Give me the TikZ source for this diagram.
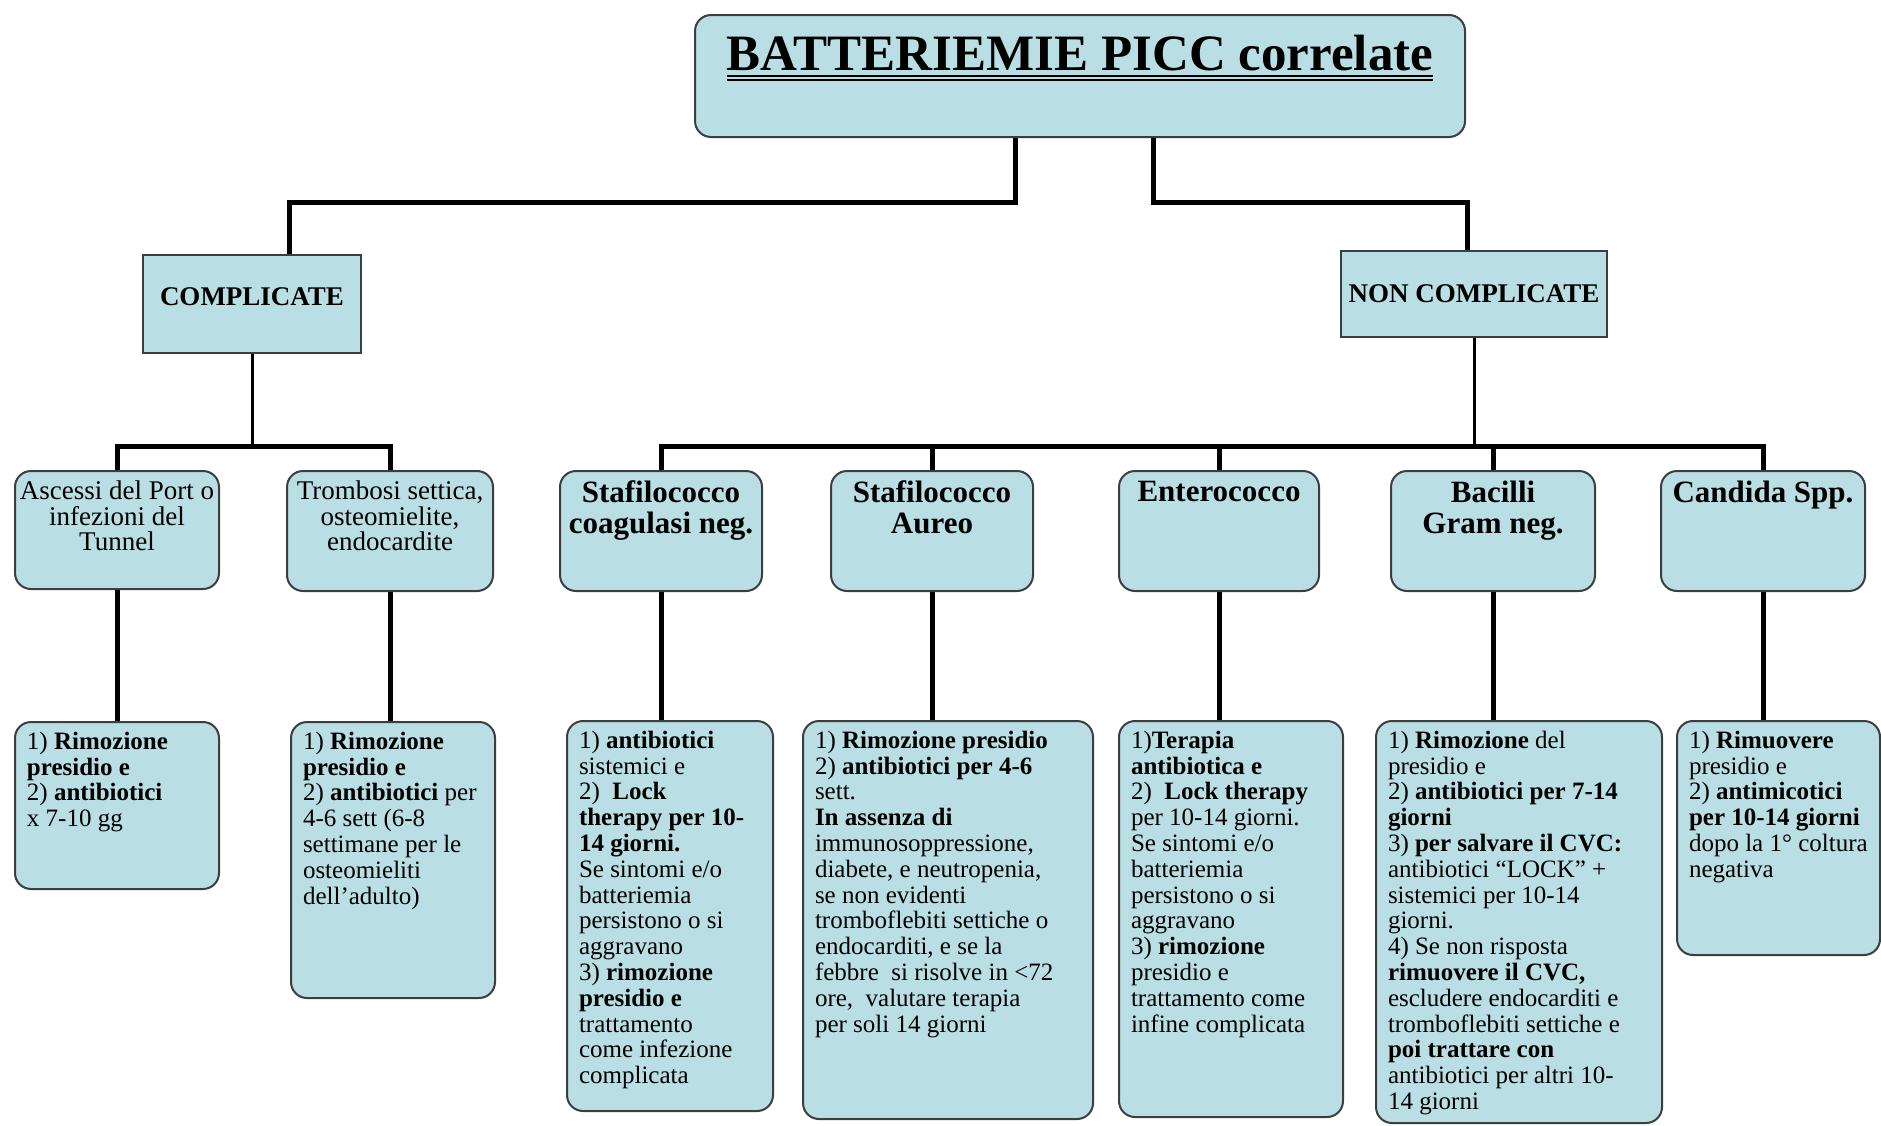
\documentclass[tikz,border=0pt]{standalone}
\usepackage{fontspec}
\setmainfont{Liberation Serif}
\usepackage{tikz}
\usetikzlibrary{calc}

\definecolor{boxfill}{RGB}{185,222,228}
\definecolor{boxline}{RGB}{58,62,64}
\tikzset{
  flatbox/.style={draw=boxline, fill=boxfill, line width=2pt, inner sep=0pt},
  roundbox/.style={flatbox, rounded corners=16pt},
  link/.style={line width=5pt, black},
  thinlink/.style={line width=3pt, black}
}
\newcommand{\fnttitle}{\fontsize{51}{53}\selectfont\bfseries\centering}
\newcommand{\fnthead}{\fontsize{27}{28}\selectfont\bfseries\centering}
\newcommand{\fntgerm}{\fontsize{31}{31}\selectfont\bfseries\centering}
\newcommand{\fntsite}{\fontsize{27}{25.5}\selectfont\centering}
\newcommand{\fntleaf}{\fontsize{25}{25.8}\selectfont\raggedright\leftskip=8pt}
\newcommand{\dblrule}[1]{\vtop{\hbox{#1}\kern4pt\hrule height 1.8pt\kern2.2pt\hrule height 1.8pt}}
% [top pad] name, style, left, top, width, height, text
\newcommand{\chartcell}[8][10pt]{
  \node[#3, anchor=north west, minimum width=#6pt, minimum height=#7pt] (#2) at (#4,#5)
    {\parbox[c][#7pt][t]{\dimexpr#6pt-8pt\relax}{\vspace*{#1}#8}};
}

\begin{document}
\begin{tikzpicture}[x=1pt, y=-1pt]
  \useasboundingbox (0,0) rectangle (1881,1125);
  \coordinate (tsplit) at (0,202);
  \coordinate (bus) at (0,446);

  \chartcell[20pt]{title}{roundbox}{694}{14}{770}{122}{\fnttitle\dblrule{BATTERIEMIE PICC correlate}}
  \chartcell[33pt]{compl}{flatbox}{142}{254}{218}{98}{\fnthead COMPLICATE}
  \chartcell[34pt]{noncompl}{flatbox}{1340}{250}{266}{86}{\fnthead NON COMPLICATE}

  % infections and germs
  \chartcell{ascessi}{roundbox}{14}{470}{204}{118}{\fntsite Ascessi del Port o\\ infezioni del\\ Tunnel}
  \chartcell{trombosi}{roundbox}{286}{470}{206}{120}{\fntsite Trombosi settica,\\ osteomielite,\\ endocardite}
  \chartcell{stafneg}{roundbox}{559}{470}{202}{120}{\fntgerm Stafilococco\\ coagulasi neg.}
  \chartcell{aureo}{roundbox}{830}{470}{202}{120}{\fntgerm Stafilococco\\ Aureo}
  \chartcell{entero}{roundbox}{1118}{470}{200}{120}{\fntgerm Enterococco}
  \chartcell{bacilli}{roundbox}{1390}{470}{204}{120}{\fntgerm Bacilli\\ Gram neg.}
  \chartcell{candida}{roundbox}{1660}{470}{204}{120}{\fntgerm Candida Spp.}

  % treatments
  \chartcell{cura1}{roundbox}{14}{721}{204}{167}{\fntleaf
    1) \textbf{Rimozione}\\ \textbf{presidio e}\\ 2) \textbf{antibiotici}\\ x 7-10 gg}
  \chartcell{cura2}{roundbox}{290}{721}{204}{276}{\fntleaf
    1) \textbf{Rimozione}\\ \textbf{presidio e}\\ 2) \textbf{antibiotici} per\\ 4-6 sett (6-8\\
    settimane per le\\ osteomieliti\\ dell'adulto)}
  \chartcell{cura3}{roundbox}{566}{720}{206}{390}{\fntleaf
    1) \textbf{antibiotici}\\ sistemici e\\ 2)\ \ \textbf{Lock}\\ \textbf{therapy per 10-}\\
    \textbf{14 giorni.}\\ Se sintomi e/o\\ batteriemia\\ persistono o si\\ aggravano\\
    3) \textbf{rimozione}\\ \textbf{presidio e}\\ trattamento\\ come infezione\\ complicata}
  \chartcell{cura4}{roundbox}{802}{720}{290}{398}{\fntleaf
    1) \textbf{Rimozione presidio}\\ 2) \textbf{antibiotici per 4-6}\\ sett.\\
    \textbf{In assenza di}\\ immunosoppressione,\\ diabete, e neutropenia,\\ se non evidenti\\
    tromboflebiti settiche o\\ endocarditi, e se la\\ febbre\ \ si risolve in <72\\
    ore,\ \ valutare terapia\\ per soli 14 giorni}
  \chartcell{cura5}{roundbox}{1118}{720}{224}{396}{\fntleaf
    1)\textbf{Terapia}\\ \textbf{antibiotica e}\\ 2)\ \ \textbf{Lock therapy}\\ per 10-14 giorni.\\
    Se sintomi e/o\\ batteriemia\\ persistono o si\\ aggravano\\ 3) \textbf{rimozione}\\
    presidio e\\ trattamento come\\ infine complicata}
  \chartcell{cura6}{roundbox}{1375}{720}{286}{402}{\fntleaf
    1) \textbf{Rimozione} del\\ presidio e\\ 2) \textbf{antibiotici per 7-14}\\ \textbf{giorni}\\
    3) \textbf{per salvare il CVC:}\\ antibiotici ``LOCK'' +\\ sistemici per 10-14\\ giorni.\\
    4) Se non risposta\\ \textbf{rimuovere il CVC,}\\ escludere endocarditi e\\
    tromboflebiti settiche e\\ \textbf{poi trattare con}\\ antibiotici per altri 10-\\ 14 giorni}
  \chartcell{cura7}{roundbox}{1676}{720}{203}{234}{\fntleaf
    1) \textbf{Rimuovere}\\ presidio e\\ 2) \textbf{antimicotici}\\ \textbf{per 10-14 giorni}\\
    dopo la 1° coltura\\ negativa}

  % connectors
  \draw[link] ([xshift=-65pt]title.south) -- ([xshift=-65pt]title.south |- tsplit)
    -| ([xshift=37pt]compl.north);
  \draw[link] ([xshift=73pt]title.south) -- ([xshift=73pt]title.south |- tsplit)
    -| ([xshift=-7pt]noncompl.north);
  \draw[thinlink] (compl.south) -- (compl.south |- bus);
  \draw[thinlink] (noncompl.south) -- (noncompl.south |- bus);
  \draw[link] (ascessi.north) -- (ascessi.north |- bus) -- (trombosi.north |- bus) -- (trombosi.north);
  \draw[link] (stafneg.north) -- (stafneg.north |- bus) -- (candida.north |- bus) -- (candida.north);
  \foreach \g in {aureo,entero,bacilli}
    \draw[link] (\g.north) -- (\g.north |- bus);
  \foreach \g/\c in {ascessi/cura1,trombosi/cura2,stafneg/cura3,aureo/cura4,
                     entero/cura5,bacilli/cura6,candida/cura7}
    \draw[link] (\g.south) -- (\g.south |- \c.north);
\end{tikzpicture}
\end{document}
